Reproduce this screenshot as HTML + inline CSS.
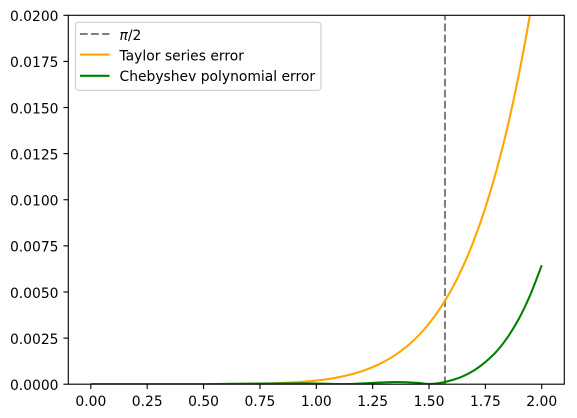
<!DOCTYPE html>
<html lang="en">
<head>
<meta charset="utf-8">
<title>Approximation error chart</title>
<style>
html,body{margin:0;padding:0;background:#fff;}
svg{display:block;}
text{font-family:"DejaVu Sans","Liberation Sans",sans-serif;font-size:13.89px;fill:#000;}
</style>
</head>
<body>
<svg id="chart" width="577" height="418" viewBox="0 0 577 418" xmlns="http://www.w3.org/2000/svg">
  <defs><clipPath id="plot-clip"><rect x="68.3" y="15.3" width="496" height="369"></rect></clipPath></defs>
  <rect x="68.3" y="15.3" width="496" height="369" fill="#fff"></rect>
  <g id="series" clip-path="url(#plot-clip)"></g>
  <g id="frame"></g>
  <g id="xticks"></g>
  <g id="yticks"></g>
  <g>
    <rect x="75.5" y="22.3" width="245.5" height="68" rx="3" ry="3" fill="#fff" fill-opacity="0.8" stroke="#cccccc" stroke-width="1.1"></rect>
    <line x1="80" y1="34" x2="109.5" y2="34" stroke="#808080" stroke-width="2.08" stroke-dasharray="7.7 3.33"></line>
    <text x="119.5" y="40"><tspan font-style="italic">π</tspan>/2</text>
    <line x1="80" y1="54.6" x2="109.5" y2="54.6" stroke="#ffa500" stroke-width="2.08"></line>
    <text x="119.5" y="60.5">Taylor series error</text>
    <line x1="80" y1="75.8" x2="109.5" y2="75.8" stroke="#008000" stroke-width="2.08"></line>
    <text x="119.5" y="81">Chebyshev polynomial error</text>
  </g>
</svg>
<script>
const xValues = [0,0.05,0.1,0.15,0.2,0.25,0.3,0.35,0.4,0.45,0.5,0.55,0.6,0.65,0.7,0.75,0.8,0.85,0.9,0.95,1,1.05,1.1,1.15,1.2,1.25,1.3,1.35,1.4,1.45,1.5,1.55,1.6,1.65,1.7,1.75,1.8,1.85,1.9,1.95,2];
const taylorError = [0,0,0,0,0,0,0,0.0000001,0.0000003,0.0000007,0.0000015,0.000003,0.0000055,0.0000097,0.0000163,0.0000264,0.0000415,0.0000635,0.000094,0.000138,0.000196,0.000275,0.00038,0.000518,0.000697,0.000926,0.001216,0.00158,0.002035,0.002596,0.003285,0.004123,0.005141,0.006365,0.00783,0.00957,0.011625,0.01404,0.01688,0.0202,0.02404];
const chebyshevError = [0,0.000002,0.000003,0.000003,0.000003,0.000002,0.000002,0.000002,0.000002,0.000003,0.000005,0.00001,0.000016,0.000022,0.000028,0.000034,0.000038,0.000042,0.000044,0.00004,0.000035,0.000025,0.00001,0.00001,0.000035,0.00007,0.0001,0.000115,0.000105,0.00007,0.000015,0.000072,0.000216,0.00043,0.00075,0.0012,0.00178,0.00257,0.00358,0.00487,0.00645];
const piHalf = 1.5708;
const xTickLabels = ["0.00","0.25","0.50","0.75","1.00","1.25","1.50","1.75","2.00"];
const yTickLabels = ["0.0000","0.0025","0.0050","0.0075","0.0100","0.0125","0.0150","0.0175","0.0200"];

const SVG_NS = "http://www.w3.org/2000/svg";
const plotLeft = 68.3, plotRight = 564.3, plotTop = 15.3, plotBottom = 384.2;
const xMin = -0.1, xMax = 2.1, yMin = 0, yMax = 0.02;
function sx(v){ return plotLeft + (v - xMin) / (xMax - xMin) * (plotRight - plotLeft); }
function sy(v){ return plotBottom - (v - yMin) / (yMax - yMin) * (plotBottom - plotTop); }
function make(tag, attrs){
  const el = document.createElementNS(SVG_NS, tag);
  for (const k in attrs) el.setAttribute(k, attrs[k]);
  return el;
}
function smoothPath(xs, ys){
  const px = xs.map(sx);
  const py = ys.map(sy);
  let d = "M" + px[0].toFixed(2) + " " + py[0].toFixed(2);
  for (let i = 0; i < px.length - 1; i++) {
    const a = Math.max(i - 1, 0);
    const b = Math.min(i + 2, px.length - 1);
    const c1x = px[i] + (px[i + 1] - px[a]) / 6;
    const c1y = py[i] + (py[i + 1] - py[a]) / 6;
    const c2x = px[i + 1] - (px[b] - px[i]) / 6;
    const c2y = py[i + 1] - (py[b] - py[i]) / 6;
    d += " C" + c1x.toFixed(2) + " " + c1y.toFixed(2) + " " + c2x.toFixed(2) + " " + c2y.toFixed(2) + " " + px[i + 1].toFixed(2) + " " + py[i + 1].toFixed(2);
  }
  return d;
}

const seriesGroup = document.getElementById("series");

const piLine = make("line", {x1: sx(piHalf), x2: sx(piHalf), y1: sy(yMin), y2: sy(yMax), stroke: "#808080", "stroke-width": 2.08, "stroke-dasharray": "7.7 3.33"});


seriesGroup.appendChild(piLine);

const taylorLine = make("path", {d: smoothPath(xValues, taylorError), fill: "none", stroke: "#ffa500", "stroke-width": 2.08, "stroke-linejoin": "round"});


seriesGroup.appendChild(taylorLine);

const chebyshevLine = make("path", {d: smoothPath(xValues, chebyshevError), fill: "none", stroke: "#008000", "stroke-width": 2.08, "stroke-linejoin": "round"});


seriesGroup.appendChild(chebyshevLine);

const frameBox = make("rect", {x: plotLeft, y: plotTop, width: plotRight - plotLeft, height: plotBottom - plotTop, fill: "none", stroke: "#000", "stroke-width": 1.11});


document.getElementById("frame").appendChild(frameBox);

const xGroup = document.getElementById("xticks");
xTickLabels.forEach(function(label){
  const v = parseFloat(label);
  const tick = make("line", {x1: sx(v), x2: sx(v), y1: plotBottom, y2: plotBottom + 4.86, stroke: "#000", "stroke-width": 1.11});
  
  
  xGroup.appendChild(tick);
  const text = make("text", {x: sx(v), y: 406, "text-anchor": "middle"});
  
  
  text.textContent = label;
  xGroup.appendChild(text);
});

const yGroup = document.getElementById("yticks");
yTickLabels.forEach(function(label){
  const v = parseFloat(label);
  const tick = make("line", {x1: plotLeft - 4.86, x2: plotLeft, y1: sy(v), y2: sy(v), stroke: "#000", "stroke-width": 1.11});
  
  
  yGroup.appendChild(tick);
  const text = make("text", {x: 58.5, y: sy(v) + 5.8, "text-anchor": "end"});
  
  
  text.textContent = label;
  yGroup.appendChild(text);
});
</script>
</body>
</html>
